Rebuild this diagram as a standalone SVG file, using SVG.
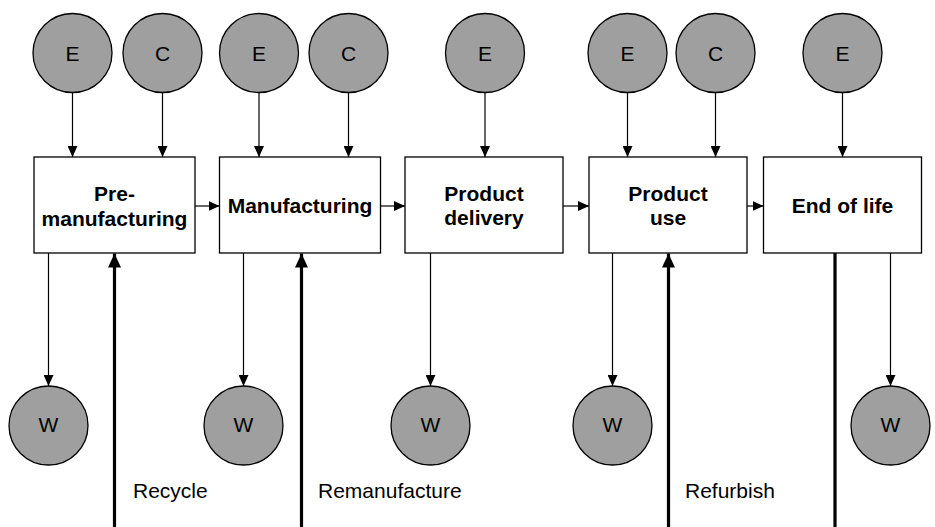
<svg xmlns="http://www.w3.org/2000/svg" width="935" height="527" viewBox="0 0 935 527">
<style>
.c{fill:#9f9f9f;stroke:#000;stroke-width:1.3}
.b{fill:#fff;stroke:#000;stroke-width:1.3}
.t{font-family:"Liberation Sans",Arial,sans-serif;font-size:21px;fill:#000}
.ct{text-anchor:middle}
.bt{font-weight:bold;text-anchor:middle}
.l{stroke:#000;stroke-width:1.2;fill:none;marker-end:url(#a)}
.k{stroke:#000;stroke-width:3.2;fill:none}
.ka{marker-end:url(#ak)}
</style>
<defs>
<marker id="a" markerUnits="userSpaceOnUse" markerWidth="11" markerHeight="10" refX="11" refY="5" orient="auto" viewBox="0 0 11 10"><path d="M0,0 L11,5 L0,10 z" fill="#000"/></marker>
<marker id="ak" markerUnits="userSpaceOnUse" markerWidth="14" markerHeight="13" refX="14" refY="6.5" orient="auto" viewBox="0 0 14 13"><path d="M0,0 L14,6.5 L0,13 z" fill="#000"/></marker>
</defs>
<g id="connectors">
<line class="l" x1="72.5" y1="92.5" x2="72.5" y2="157"/>
<line class="l" x1="162.5" y1="92.5" x2="162.5" y2="157"/>
<line class="l" x1="259" y1="92.5" x2="259" y2="157"/>
<line class="l" x1="348.5" y1="92.5" x2="348.5" y2="157"/>
<line class="l" x1="485" y1="92.5" x2="485" y2="157"/>
<line class="l" x1="627.5" y1="92.5" x2="627.5" y2="157"/>
<line class="l" x1="715.5" y1="92.5" x2="715.5" y2="157"/>
<line class="l" x1="842.5" y1="92.5" x2="842.5" y2="157"/>
<line class="l" x1="195" y1="206" x2="219.5" y2="206"/>
<line class="l" x1="380.5" y1="206" x2="405" y2="206"/>
<line class="l" x1="563" y1="206" x2="589" y2="206"/>
<line class="l" x1="747" y1="206" x2="763.5" y2="206"/>
<line class="l" x1="48.5" y1="253" x2="48.5" y2="386"/>
<line class="l" x1="243.5" y1="253" x2="243.5" y2="386"/>
<line class="l" x1="430.5" y1="253" x2="430.5" y2="386"/>
<line class="l" x1="612.5" y1="253" x2="612.5" y2="386"/>
<line class="l" x1="890.5" y1="253" x2="890.5" y2="386"/>
<line class="k ka" x1="114.5" y1="527" x2="114.5" y2="253.5"/>
<line class="k ka" x1="301.5" y1="527" x2="301.5" y2="253.5"/>
<line class="k ka" x1="668.5" y1="527" x2="668.5" y2="253.5"/>
<line class="k" x1="835" y1="253" x2="835" y2="527"/>
</g>
<g id="premanufacturing"><rect class="b" x="34" y="157" width="161" height="96"/><text class="t bt" x="114.5" y="201">Pre-</text><text class="t bt" x="114.5" y="225.5">manufacturing</text></g>
<g id="manufacturing"><rect class="b" x="219.5" y="157" width="161" height="96"/><text class="t bt" x="300" y="213.3">Manufacturing</text></g>
<g id="delivery"><rect class="b" x="405" y="157" width="158" height="96"/><text class="t bt" x="484" y="201">Product</text><text class="t bt" x="484" y="225">delivery</text></g>
<g id="use"><rect class="b" x="589" y="157" width="158" height="96"/><text class="t bt" x="668" y="201">Product</text><text class="t bt" x="668" y="225">use</text></g>
<g id="endoflife"><rect class="b" x="763.5" y="157" width="158" height="96"/><text class="t bt" x="842.5" y="213.3">End of life</text></g>
<g id="e1"><circle class="c" cx="72.5" cy="53" r="39.5"/><text class="t ct" x="72.5" y="61">E</text></g>
<g id="c1"><circle class="c" cx="162.5" cy="53" r="39.5"/><text class="t ct" x="162.5" y="61">C</text></g>
<g id="e2"><circle class="c" cx="259" cy="53" r="39.5"/><text class="t ct" x="259" y="61">E</text></g>
<g id="c2"><circle class="c" cx="348.5" cy="53" r="39.5"/><text class="t ct" x="348.5" y="61">C</text></g>
<g id="e3"><circle class="c" cx="485" cy="53" r="39.5"/><text class="t ct" x="485" y="61">E</text></g>
<g id="e4"><circle class="c" cx="627.5" cy="53" r="39.5"/><text class="t ct" x="627.5" y="61">E</text></g>
<g id="c4"><circle class="c" cx="715.5" cy="53" r="39.5"/><text class="t ct" x="715.5" y="61">C</text></g>
<g id="e5"><circle class="c" cx="842.5" cy="53" r="39.5"/><text class="t ct" x="842.5" y="61">E</text></g>
<g id="w1"><circle class="c" cx="48.5" cy="425.5" r="39.5"/><text class="t ct" x="48.5" y="432">W</text></g>
<g id="w2"><circle class="c" cx="243.5" cy="425.5" r="39.5"/><text class="t ct" x="243.5" y="432">W</text></g>
<g id="w3"><circle class="c" cx="430.5" cy="425.5" r="39.5"/><text class="t ct" x="430.5" y="432">W</text></g>
<g id="w4"><circle class="c" cx="612.5" cy="425.5" r="39.5"/><text class="t ct" x="612.5" y="432">W</text></g>
<g id="w5"><circle class="c" cx="890.5" cy="425.5" r="39.5"/><text class="t ct" x="890.5" y="432">W</text></g>
<g id="labels">
<text class="t" x="133" y="498">Recycle</text>
<text class="t" x="318" y="498">Remanufacture</text>
<text class="t" x="685" y="498">Refurbish</text>
</g>
</svg>
